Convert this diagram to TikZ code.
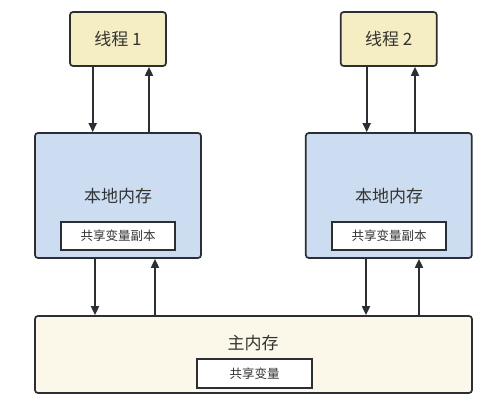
\documentclass[tikz,border=0pt]{standalone}
\usepackage{fontspec}
\setmainfont{Noto Sans CJK SC}
\usetikzlibrary{arrows.meta}
\definecolor{bordc}{HTML}{2B2F33}
\definecolor{txtc}{HTML}{333333}
\definecolor{threadc}{HTML}{F6EEC3}
\definecolor{localc}{HTML}{CCDDF2}
\definecolor{mainc}{HTML}{FBF8EA}
\tikzset{
  box/.style={draw=bordc, line width=1.7pt, rounded corners=3pt, inner sep=0pt, text=txtc},
  inbox/.style={draw=bordc, line width=1.7pt, fill=white, inner sep=0pt, text=txtc, font=\fontsize{12.5}{14}\selectfont},
  bigtxt/.style={text=txtc, font=\fontsize{17}{20}\selectfont},
  conn/.style={draw=bordc, line width=1.7pt, -{Triangle[length=9pt,width=8pt]}},
}
\begin{document}
\begin{tikzpicture}[x=1pt,y=-1pt]
\useasboundingbox (0,0) rectangle (503,409);
% thread boxes
\node[box, bigtxt, fill=threadc, minimum width=96pt, minimum height=54pt] (t1) at (118,39) {线程 1};
\node[box, bigtxt, fill=threadc, minimum width=96pt, minimum height=54pt] (t2) at (388.7,39) {线程 2};
% local memory
\node[box, fill=localc, minimum width=166pt, minimum height=125pt] (l1) at (118,195.5) {};
\node[box, fill=localc, minimum width=166pt, minimum height=125pt] (l2) at (388.8,195.5) {};
\node[bigtxt] (l1t) at (118,196) {本地内存};
\node[bigtxt] (l2t) at (389,196) {本地内存};
\node[inbox, minimum width=114pt, minimum height=28pt] (c1) at (118,236) {共享变量副本};
\node[inbox, minimum width=114pt, minimum height=28pt] (c2) at (389,236) {共享变量副本};
% main memory
\node[box, fill=mainc, minimum width=437pt, minimum height=77pt] (m) at (253.5,354.5) {};
\node[bigtxt] (mt) at (253,343) {主内存};
\node[inbox, minimum width=115pt, minimum height=29pt] (sv) at (254.5,373.5) {共享变量};
% connectors
\coordinate (a1) at (92.7,0);
\coordinate (a2) at (149,0);
\coordinate (a3) at (366.7,0);
\coordinate (a4) at (415,0);
\coordinate (b1) at (95,0);
\coordinate (b2) at (155,0);
\coordinate (b3) at (366,0);
\coordinate (b4) at (419,0);
\draw[conn] (t1.south -| a1) -- (l1.north -| a1);
\draw[conn] (l1.north -| a2) -- (t1.south -| a2);
\draw[conn] (t2.south -| a3) -- (l2.north -| a3);
\draw[conn] (l2.north -| a4) -- (t2.south -| a4);
\draw[conn] (l1.south -| b1) -- (m.north -| b1);
\draw[conn] (m.north -| b2) -- (l1.south -| b2);
\draw[conn] (l2.south -| b3) -- (m.north -| b3);
\draw[conn] (m.north -| b4) -- (l2.south -| b4);
\end{tikzpicture}
\end{document}
